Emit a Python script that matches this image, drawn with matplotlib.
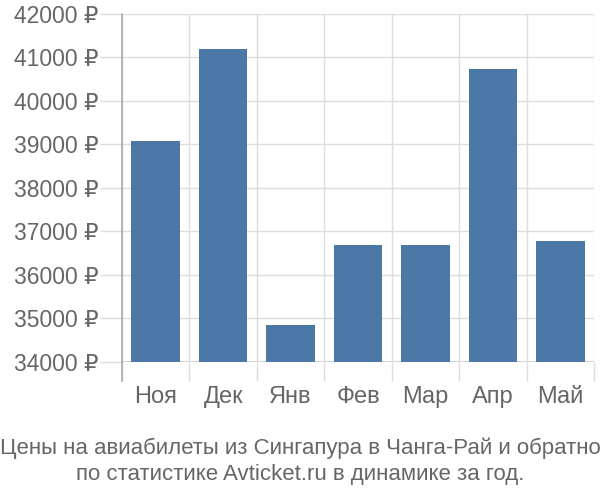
import matplotlib
matplotlib.use("Agg")
import matplotlib.pyplot as plt
import numpy as np
from matplotlib.ticker import FixedLocator

months = ["Ноя", "Дек", "Янв", "Фев", "Мар", "Апр", "Май"]
prices = [39070, 41200, 34850, 36690, 36690, 40740, 36780]
yticks = [34000, 35000, 36000, 37000, 38000, 39000, 40000, 41000, 42000]
ytick_labels = [f"{v} ₽" for v in yticks]
title = "Цены на авиабилеты из Сингапура в Чанга-Рай и обратно\nпо статистике Avticket.ru в динамике за год."

plt.rcParams['font.family'] = ['Liberation Sans', 'DejaVu Sans']
text_color = "#666666"
grid_color = "#dddddd"
bar_color = "#4c78a8"

fig = plt.figure(figsize=(6, 5), dpi=100)
ax = fig.add_axes([122/600, 1-362/500, (594-122)/600, (362-14)/500])

x = np.arange(len(months))
ax.bar(x, prices, width=0.72, color=bar_color, zorder=2)

ax.set_xlim(-0.5, len(months)-0.5)
ax.set_ylim(34000, 42000)

ax.set_yticks(yticks)
ax.set_yticklabels(ytick_labels)
ax.set_xticks(x)
ax.set_xticklabels(months)
ax.xaxis.set_minor_locator(FixedLocator(np.arange(len(months)+1)-0.5))

ax.grid(axis='y', color=grid_color, linewidth=1, zorder=0)
ax.grid(axis='x', which='minor', color=grid_color, linewidth=1, zorder=0)

ax.tick_params(axis='y', length=16, width=1, color=grid_color, pad=1, labelsize=16.5, labelcolor=text_color)
ax.tick_params(axis='x', which='major', length=0, pad=17, labelsize=17, labelcolor=text_color)
ax.tick_params(axis='x', which='minor', length=14, width=1, color=grid_color)

for s in ['top', 'right', 'bottom']:
    ax.spines[s].set_visible(False)
ax.spines['left'].set_color('#aaaaaa')
ax.spines['left'].set_linewidth(1.2)
ax.spines['left'].set_bounds(34000, 42000)

ax.plot([-0.5, -0.5], [34000, 34000 - 19/348*8000], color='#aaaaaa', lw=1.2, clip_on=False, zorder=3)
ax.axhline(34000, color='#cccccc', lw=1.2, zorder=1)

fig.text(0.5, 1-461/500, title, ha='center', va='center', fontsize=16, color=text_color,
         family=['Liberation Sans Narrow', 'Liberation Sans', 'DejaVu Sans'], linespacing=1.3)

fig.savefig("out.png", dpi=100)
